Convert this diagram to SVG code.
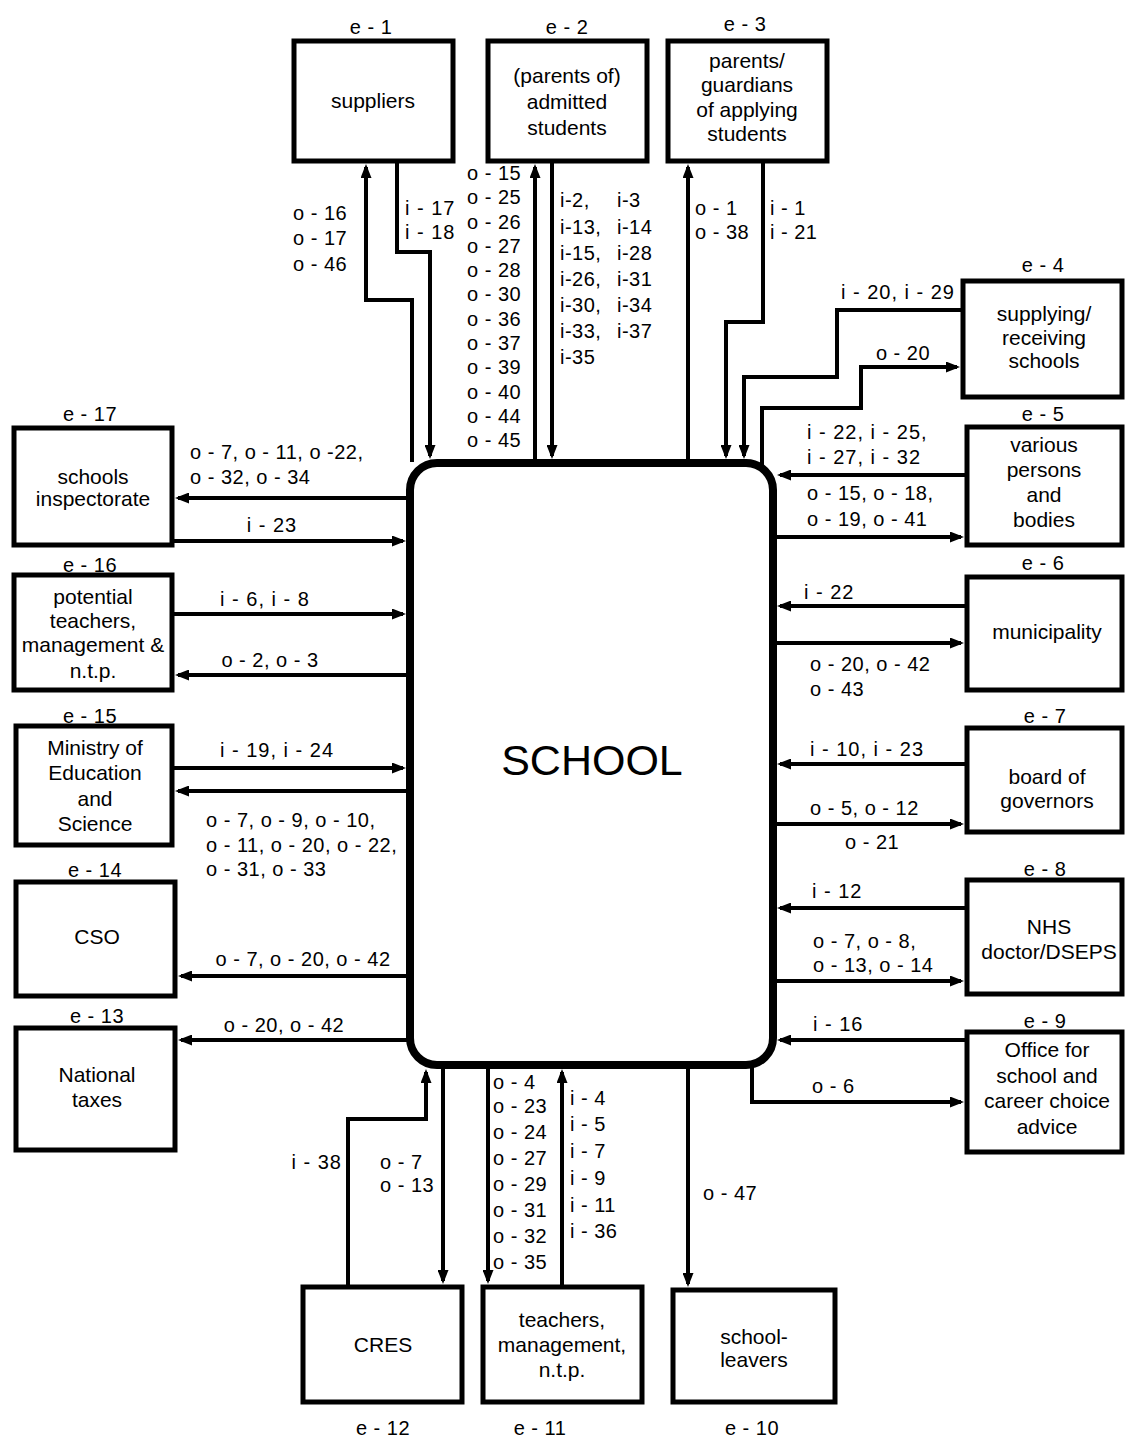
<svg xmlns="http://www.w3.org/2000/svg" width="1126" height="1439" viewBox="0 0 1126 1439">
<style>
text{font-family:"Liberation Sans",Arial,Helvetica,sans-serif;fill:#000}
.bt{font-size:21px;text-anchor:middle}
.lb{font-size:20px;letter-spacing:0.5px}
.sp{font-size:20px;letter-spacing:1px}
.c{text-anchor:middle}
.el{font-size:20px;letter-spacing:0.5px;text-anchor:middle}
.box{fill:#fff;stroke:#000;stroke-width:5}
.cn path{fill:none;stroke:#000;stroke-width:4;marker-end:url(#ah)}
</style>
<defs>
<marker id="ah" viewBox="0 0 14 11" refX="11" refY="5.5" markerWidth="14" markerHeight="11" markerUnits="userSpaceOnUse" orient="auto">
<path d="M0,0 L14,5.5 L0,11 z" fill="#000"/>
</marker>
</defs>
<rect width="1126" height="1439" fill="#fff"/>

<g id="school">
<rect x="410" y="463" width="363" height="602" rx="27" ry="27" fill="#fff" stroke="#000" stroke-width="8"/>
<text x="592" y="775" style="font-size:43px;text-anchor:middle">SCHOOL</text>
</g>

<g id="e1">
<text class="el" x="371" y="34">e - 1</text>
<rect class="box" x="294" y="41" width="159" height="120"/>
<text class="bt" x="373" y="108">suppliers</text>
</g>
<g id="e2">
<text class="el" x="567" y="34">e - 2</text>
<rect class="box" x="488" y="41" width="159" height="120"/>
<text class="bt" x="567" y="83">(parents of)</text>
<text class="bt" x="567" y="109">admitted</text>
<text class="bt" x="567" y="135">students</text>
</g>
<g id="e3">
<text class="el" x="745" y="31">e - 3</text>
<rect class="box" x="668" y="41" width="159" height="120"/>
<text class="bt" x="747" y="68">parents/</text>
<text class="bt" x="747" y="92">guardians</text>
<text class="bt" x="747" y="117">of applying</text>
<text class="bt" x="747" y="141">students</text>
</g>
<g id="e4">
<text class="el" x="1043" y="272">e - 4</text>
<rect class="box" x="963" y="281" width="159" height="116"/>
<text class="bt" x="1044" y="321">supplying/</text>
<text class="bt" x="1044" y="345">receiving</text>
<text class="bt" x="1044" y="368">schools</text>
</g>
<g id="e5">
<text class="el" x="1043" y="421">e - 5</text>
<rect class="box" x="967" y="427" width="155" height="118"/>
<text class="bt" x="1044" y="452">various</text>
<text class="bt" x="1044" y="477">persons</text>
<text class="bt" x="1044" y="502">and</text>
<text class="bt" x="1044" y="527">bodies</text>
</g>
<g id="e6">
<text class="el" x="1043" y="570">e - 6</text>
<rect class="box" x="967" y="577" width="155" height="113"/>
<text class="bt" x="1047" y="639">municipality</text>
</g>
<g id="e7">
<text class="el" x="1045" y="723">e - 7</text>
<rect class="box" x="967" y="728" width="155" height="104"/>
<text class="bt" x="1047" y="784">board of</text>
<text class="bt" x="1047" y="808">governors</text>
</g>
<g id="e8">
<text class="el" x="1045" y="876">e - 8</text>
<rect class="box" x="967" y="880" width="155" height="114"/>
<text class="bt" x="1049" y="934">NHS</text>
<text class="bt" x="1049" y="959">doctor/DSEPS</text>
</g>
<g id="e9">
<text class="el" x="1045" y="1028">e - 9</text>
<rect class="box" x="967" y="1032" width="155" height="120"/>
<text class="bt" x="1047" y="1057">Office for</text>
<text class="bt" x="1047" y="1083">school and</text>
<text class="bt" x="1047" y="1108">career choice</text>
<text class="bt" x="1047" y="1134">advice</text>
</g>
<g id="e10">
<rect class="box" x="673" y="1290" width="162" height="112"/>
<text class="bt" x="754" y="1344">school-</text>
<text class="bt" x="754" y="1367">leavers</text>
<text class="el" x="752" y="1435">e - 10</text>
</g>
<g id="e11">
<rect class="box" x="483" y="1287" width="159" height="115"/>
<text class="bt" x="562" y="1327">teachers,</text>
<text class="bt" x="562" y="1352">management,</text>
<text class="bt" x="562" y="1377">n.t.p.</text>
<text class="el" x="540" y="1435">e - 11</text>
</g>
<g id="e12">
<rect class="box" x="303" y="1287" width="159" height="115"/>
<text class="bt" x="383" y="1352">CRES</text>
<text class="el" x="383" y="1435">e - 12</text>
</g>
<g id="e13">
<text class="el" x="97" y="1023">e - 13</text>
<rect class="box" x="16" y="1028" width="159" height="122"/>
<text class="bt" x="97" y="1082">National</text>
<text class="bt" x="97" y="1107">taxes</text>
</g>
<g id="e14">
<text class="el" x="95" y="877">e - 14</text>
<rect class="box" x="16" y="882" width="159" height="114"/>
<text class="bt" x="97" y="944">CSO</text>
</g>
<g id="e15">
<text class="el" x="90" y="723">e - 15</text>
<rect class="box" x="16" y="726" width="156" height="119"/>
<text class="bt" x="95" y="755">Ministry of</text>
<text class="bt" x="95" y="780">Education</text>
<text class="bt" x="95" y="806">and</text>
<text class="bt" x="95" y="831">Science</text>
</g>
<g id="e16">
<text class="el" x="90" y="572">e - 16</text>
<rect class="box" x="14" y="575" width="158" height="115"/>
<text class="bt" x="93" y="604">potential</text>
<text class="bt" x="93" y="628">teachers,</text>
<text class="bt" x="93" y="652">management &amp;</text>
<text class="bt" x="93" y="678">n.t.p.</text>
</g>
<g id="e17">
<text class="el" x="90" y="421">e - 17</text>
<rect class="box" x="14" y="428" width="158" height="117"/>
<text class="bt" x="93" y="484">schools</text>
<text class="bt" x="93" y="506">inspectorate</text>
</g>

<g id="connectors" class="cn">
<path d="M412,462 V300 H366 V167"/>
<path d="M397,163 V252 H430 V456"/>
<path d="M535,462 V167"/>
<path d="M552,163 V456"/>
<path d="M688,462 V167"/>
<path d="M763,163 V322 H726 V456"/>
<path d="M963,310 H837 V377 H744 V456"/>
<path d="M762,466 V408 H861 V367 H957"/>
<path d="M410,498 H178"/>
<path d="M174,541 H403"/>
<path d="M174,614 H403"/>
<path d="M410,675 H178"/>
<path d="M174,768 H403"/>
<path d="M410,791 H178"/>
<path d="M410,976 H181"/>
<path d="M412,1040 H181"/>
<path d="M967,475 H780"/>
<path d="M773,537 H961"/>
<path d="M967,606 H780"/>
<path d="M773,643 H961"/>
<path d="M967,764 H780"/>
<path d="M773,824 H961"/>
<path d="M967,908 H780"/>
<path d="M773,981 H961"/>
<path d="M967,1040 H780"/>
<path d="M752,1066 V1102 H961"/>
<path d="M348,1287 V1119 H426 V1072"/>
<path d="M443,1066 V1281"/>
<path d="M488,1066 V1281"/>
<path d="M562,1287 V1072"/>
<path d="M688,1066 V1284"/>
</g>

<g id="labels">
<text class="lb" x="293" y="220">o - 16</text>
<text class="lb" x="293" y="245">o - 17</text>
<text class="lb" x="293" y="271">o - 46</text>
<text class="sp" x="405" y="215">i - 17</text>
<text class="sp" x="405" y="239">i - 18</text>
<text class="lb" x="467" y="180">o - 15</text>
<text class="lb" x="467" y="204">o - 25</text>
<text class="lb" x="467" y="229">o - 26</text>
<text class="lb" x="467" y="253">o - 27</text>
<text class="lb" x="467" y="277">o - 28</text>
<text class="lb" x="467" y="301">o - 30</text>
<text class="lb" x="467" y="326">o - 36</text>
<text class="lb" x="467" y="350">o - 37</text>
<text class="lb" x="467" y="374">o - 39</text>
<text class="lb" x="467" y="399">o - 40</text>
<text class="lb" x="467" y="423">o - 44</text>
<text class="lb" x="467" y="447">o - 45</text>
<text class="lb" x="560" y="207">i-2,</text>
<text class="lb" x="617" y="207">i-3</text>
<text class="lb" x="560" y="234">i-13,</text>
<text class="lb" x="617" y="234">i-14</text>
<text class="lb" x="560" y="260">i-15,</text>
<text class="lb" x="617" y="260">i-28</text>
<text class="lb" x="560" y="286">i-26,</text>
<text class="lb" x="617" y="286">i-31</text>
<text class="lb" x="560" y="312">i-30,</text>
<text class="lb" x="617" y="312">i-34</text>
<text class="lb" x="560" y="338">i-33,</text>
<text class="lb" x="617" y="338">i-37</text>
<text class="lb" x="560" y="364">i-35</text>
<text class="lb" x="695" y="215">o - 1</text>
<text class="lb" x="695" y="239">o - 38</text>
<text class="lb" x="770" y="215">i - 1</text>
<text class="lb" x="770" y="239">i - 21</text>
<text class="sp" x="955" y="299" style="text-anchor:end">i - 20, i - 29</text>
<text class="lb c" x="903" y="360">o - 20</text>
<text class="sp" x="807" y="439">i - 22, i - 25,</text>
<text class="sp" x="807" y="464">i - 27, i - 32</text>
<text class="lb" x="807" y="500">o - 15, o - 18,</text>
<text class="lb" x="807" y="526">o - 19, o - 41</text>
<text class="sp" x="804" y="599">i - 22</text>
<text class="lb" x="810" y="671">o - 20, o - 42</text>
<text class="lb" x="810" y="696">o - 43</text>
<text class="sp" x="810" y="756">i - 10, i - 23</text>
<text class="lb" x="810" y="815">o - 5,  o - 12</text>
<text class="lb" x="845" y="849">o - 21</text>
<text class="sp" x="812" y="898">i - 12</text>
<text class="lb" x="813" y="948">o - 7,  o - 8,</text>
<text class="lb" x="813" y="972">o - 13, o - 14</text>
<text class="sp" x="813" y="1031">i - 16</text>
<text class="lb" x="812" y="1093">o - 6</text>
<text class="lb" x="190" y="459">o - 7,  o - 11, o -22,</text>
<text class="lb" x="190" y="484">o - 32, o - 34</text>
<text class="sp c" x="272" y="532">i - 23</text>
<text class="sp c" x="265" y="606">i - 6, i - 8</text>
<text class="lb c" x="270" y="667">o - 2, o - 3</text>
<text class="sp c" x="277" y="757">i - 19, i - 24</text>
<text class="lb" x="206" y="827">o - 7, o - 9,  o - 10,</text>
<text class="lb" x="206" y="852">o - 11, o - 20, o - 22,</text>
<text class="lb" x="206" y="876">o - 31, o - 33</text>
<text class="lb c" x="303" y="966">o - 7, o - 20, o - 42</text>
<text class="lb c" x="284" y="1032">o - 20, o - 42</text>
<text class="sp" x="342" y="1169" style="text-anchor:end">i - 38</text>
<text class="lb" x="380" y="1169">o - 7</text>
<text class="lb" x="380" y="1192">o - 13</text>
<text class="lb" x="493" y="1089">o - 4</text>
<text class="lb" x="493" y="1113">o - 23</text>
<text class="lb" x="493" y="1139">o - 24</text>
<text class="lb" x="493" y="1165">o - 27</text>
<text class="lb" x="493" y="1191">o - 29</text>
<text class="lb" x="493" y="1217">o - 31</text>
<text class="lb" x="493" y="1243">o - 32</text>
<text class="lb" x="493" y="1269">o - 35</text>
<text class="lb" x="570" y="1105">i - 4</text>
<text class="lb" x="570" y="1131">i - 5</text>
<text class="lb" x="570" y="1158">i - 7</text>
<text class="lb" x="570" y="1185">i - 9</text>
<text class="lb" x="570" y="1212">i - 11</text>
<text class="lb" x="570" y="1238">i - 36</text>
<text class="lb" x="703" y="1200">o - 47</text>
</g>
</svg>
